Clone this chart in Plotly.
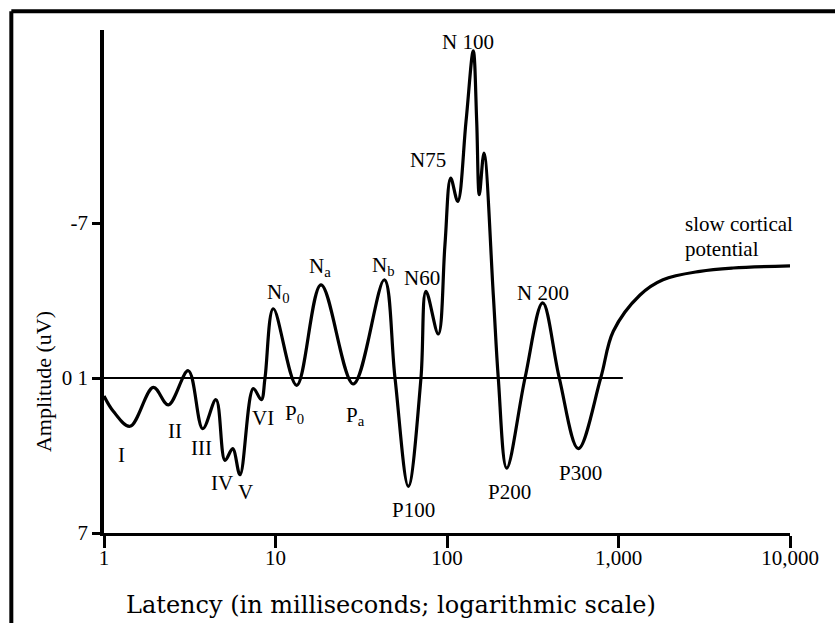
import math
import plotly.graph_objects as go

# ---- waveform data (latency in ms, amplitude in microvolts; negative is up) ----
latency_ms = [1.0, 1.133, 1.418, 1.939, 2.371, 3.101, 3.763, 4.499, 5.077, 5.629,
              6.209, 7.423, 8.264, 8.686, 9.71, 13.29, 18.42, 28.42, 43.1, 49.75,
              59.5, 70.5, 75.4, 88.97, 97.3, 105.1, 115.5, 129.1, 142.3, 149.0,
              154.3, 164.3, 186.2, 199.1, 222.9, 285.0, 361.4, 451.6, 583.1, 787.5,
              932.6, 1335, 1817, 2987, 4651, 10000]
amplitude_uv = [0.81, 1.50, 2.18, 0.42, 1.21, -0.33, 2.29, 0.98, 3.72, 3.19,
                4.37, 0.48, 0.98, 0.0, -3.13, 0.33, -4.21, 0.27, -4.44, 0.0,
                4.89, 0.0, -3.92, -1.99, -6.02, -9.03, -7.98, -11.59, -14.78, -11.59,
                -8.28, -10.16, -3.76, 0.0, 4.07, 0.0, -3.39, 0.0, 3.19, 0.0,
                -2.11, -3.75, -4.44, -4.82, -4.97, -5.07]

baseline_ms = [1, 1060]
baseline_uv = [0, 0]

x_tickvals = [1, 10, 100, 1000, 10000]
x_ticktext = ["1", "10", "100", "1,000", "10,000"]
y_tickvals = [-7, 0, 7]
y_ticktext = ["-7", "0 1", "7"]

peak_names = ["I", "II", "III", "IV", "V", "VI",
              "P<sub>0</sub>", "P<sub>a</sub>", "N<sub>0</sub>", "N<sub>a</sub>", "N<sub>b</sub>",
              "N60", "N75", "N 100", "N 200", "P100", "P200", "P300",
              "slow cortical", "potential"]
peak_name_ms = [1.268, 2.594, 3.713, 4.857, 6.641, 8.487,
                12.99, 29.08, 10.38, 18.18, 42.52,
                71.19, 77.8, 133.1, 364.4, 63.36, 232.9, 596.5,
                2388, 2388]
peak_name_uv = [3.48, 2.38, 3.18, 4.73, 5.14, 1.82,
                1.63, 1.72, -3.83, -5.0, -5.06,
                -4.50, -9.85, -15.19, -3.83, 5.96, 5.14, 4.30,
                -6.96, -5.83]

SERIF = "Liberation Serif, Times New Roman, serif"

fig = go.Figure()
fig.add_trace(go.Scatter(x=baseline_ms, y=baseline_uv, mode="lines",
                         line=dict(color="black", width=2), hoverinfo="skip"))
fig.add_trace(go.Scatter(x=latency_ms, y=amplitude_uv, mode="lines",
                         line=dict(color="black", width=3.2, shape="spline", smoothing=1.0)))

annotations = []
for name, ms, uv in zip(peak_names, peak_name_ms, peak_name_uv):
    left = name in ("slow cortical", "potential")
    annotations.append(dict(x=math.log10(ms), y=uv, xref="x", yref="y", text=name,
                            showarrow=False, xanchor="left" if left else "center",
                            yanchor="middle", font=dict(family=SERIF, size=21, color="black")))

annotations.append(dict(x=0.4184, y=-0.1431, xref="paper", yref="paper",
                        text="Latency (in milliseconds; logarithmic scale)", showarrow=False,
                        xanchor="center", yanchor="middle",
                        font=dict(family="DejaVu Serif, serif", size=24, color="black")))
annotations.append(dict(x=-0.0889, y=0.300, xref="paper", yref="paper",
                        text="Amplitude (uV)", showarrow=False, textangle=-90,
                        xanchor="center", yanchor="middle",
                        font=dict(family=SERIF, size=22, color="black")))

fig.update_layout(
    width=835, height=623,
    margin=dict(l=104, r=45, t=30, b=90),
    paper_bgcolor="white", plot_bgcolor="white",
    showlegend=False,
    annotations=annotations,
    shapes=[
        dict(type="line", xref="paper", yref="paper", x0=-0.1351, x1=-0.1351, y0=-0.2, y1=1.0372,
             line=dict(color="black", width=4)),
        dict(type="line", xref="paper", yref="paper", x0=-0.1351, x1=1.08, y0=1.0372, y1=1.0372,
             line=dict(color="black", width=4)),
    ],
    xaxis=dict(type="log", range=[0, 4], tickvals=x_tickvals, ticktext=x_ticktext,
               showline=True, linecolor="black", linewidth=3, ticks="outside",
               ticklen=12, tickwidth=2.5, tickcolor="black", showgrid=False, zeroline=False,
               ticklabelstandoff=-8,
               tickfont=dict(family=SERIF, size=21, color="black")),
    yaxis=dict(range=[7, -15.72], tickvals=y_tickvals, ticktext=y_ticktext,
               showline=True, linecolor="black", linewidth=3.5, ticks="outside",
               ticklen=8, tickwidth=2.5, tickcolor="black", showgrid=False, zeroline=False,
               tickfont=dict(family=SERIF, size=21, color="black")),
)

fig.write_html("out.html", config={"displayModeBar": False},
               post_script="document.body.style.margin='0';document.body.style.padding='0';")
